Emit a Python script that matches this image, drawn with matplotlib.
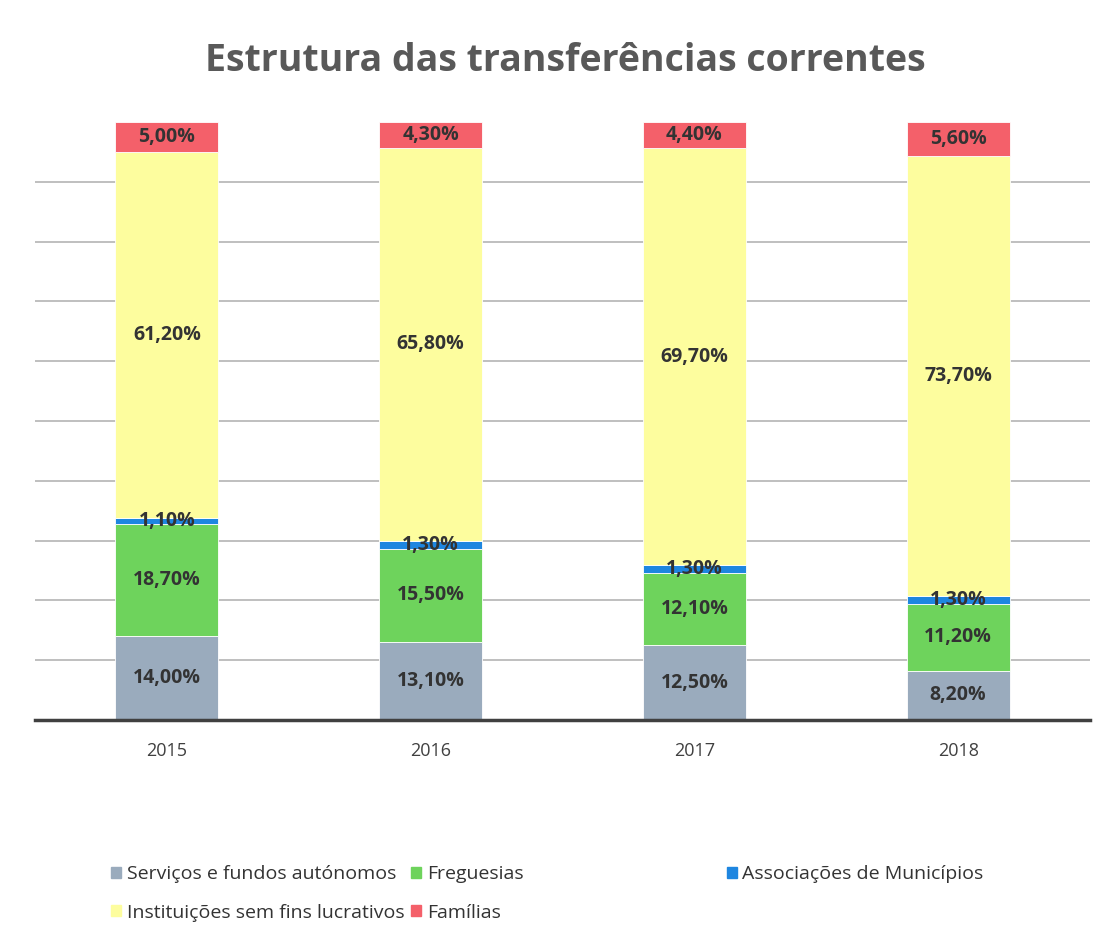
import numpy as np
import matplotlib
matplotlib.use("Agg")
import matplotlib.pyplot as plt
from matplotlib.patches import Patch

years = ["2015", "2016", "2017", "2018"]
servicos = [14.0, 13.1, 12.5, 8.2]
freguesias = [18.7, 15.5, 12.1, 11.2]
associacoes = [1.1, 1.3, 1.3, 1.3]
instituicoes = [61.2, 65.8, 69.7, 73.7]
familias = [5.0, 4.3, 4.4, 5.6]

series_names = ["Serviços e fundos autónomos", "Freguesias", "Associações de Municípios",
                "Instituições sem fins lucrativos", "Famílias"]
series_vals = [servicos, freguesias, associacoes, instituicoes, familias]
colors = ["#9aabbd", "#6ed35c", "#1e86e0", "#fdfd9e", "#f4606a"]

plt.rcParams['font.family'] = ['Open Sans', 'DejaVu Sans']

fig = plt.figure(figsize=(11.05, 9.46), dpi=100)
ax = fig.add_axes([0.0317, 0.2389, 0.9547, 0.6321])

x = np.arange(len(years))
bottom = np.zeros(len(years))
for name, vals, col in zip(series_names, series_vals, colors):
    vals = np.array(vals)
    ax.bar(x, vals, 0.39, bottom=bottom, color=col, edgecolor="white", linewidth=0.6,
           label=name, zorder=3)
    for xi, b, v in zip(x, bottom, vals):
        ax.text(xi, b + v / 2, f"{v:.2f}%".replace(".", ","), ha="center", va="center",
                fontsize=14, fontweight="bold", color="#333333", zorder=4)
    bottom += vals

ax.set_xlim(-0.5, 3.5)
ax.set_ylim(0, 100)
ax.set_yticks(np.arange(10, 100, 10))
ax.yaxis.grid(True, color="#b4b4b4", linewidth=1.2, zorder=0)
ax.tick_params(axis="y", left=False, labelleft=False)
ax.tick_params(axis="x", bottom=False, labelsize=13, labelcolor="#404040", pad=12)
ax.set_xticks(x)
ax.set_xticklabels(years)
for s in ["top", "right", "left"]:
    ax.spines[s].set_visible(False)
ax.spines["bottom"].set_color("#404040")
ax.spines["bottom"].set_linewidth(2.5)
ax.spines["bottom"].set_zorder(5)

fig.text(0.512, 0.935, "Estrutura das transferências correntes", ha="center", va="center",
         fontsize=27, fontweight="bold", color="#595959")

h = [Patch(color=c) for c in colors]
leg1 = fig.legend([h[0], h[3], h[1], h[4]],
                  [series_names[0], series_names[3], series_names[1], series_names[4]],
                  ncol=2, loc="upper left", bbox_to_anchor=(0.085, 0.104), frameon=False,
                  fontsize=14, handlelength=0.5, handleheight=0.5, handletextpad=0.3,
                  columnspacing=0.35, labelspacing=1.05, labelcolor="#333333")
leg2 = fig.legend([h[2]], [series_names[2]], loc="upper left", bbox_to_anchor=(0.642, 0.104),
                  frameon=False, fontsize=14, handlelength=0.5, handleheight=0.5,
                  handletextpad=0.3, labelcolor="#333333")

fig.savefig("out.png", dpi=100)
